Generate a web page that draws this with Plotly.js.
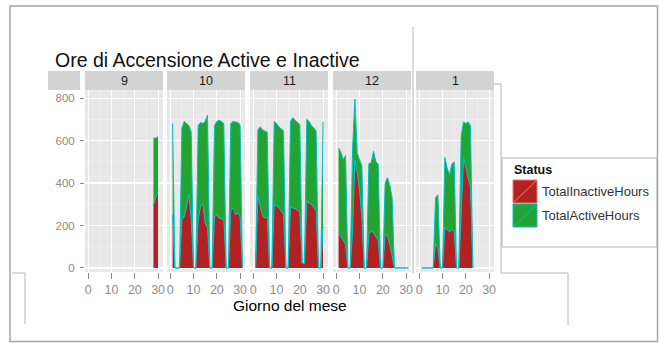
<!DOCTYPE html>
<html><head><meta charset="utf-8">
<script src="https://cdn.plot.ly/plotly-3.0.1.min.js"></script>
<style>html,body{margin:0;padding:0;background:#fff;}#chart{width:659px;height:343px;}</style>
</head><body><div id="chart"></div>
<script>
// ---- data ----
const months = ['9','10','11','12','1'];
const seriesNames = ['TotalInactiveHours','TotalActiveHours'];
const legendTitle = 'Status';
const chartTitle = 'Ore di Accensione Active e Inactive';
const xTitle = 'Giorno del mese';
const yTicks = [0,200,400,600,800];
const xTicks = [0,10,20,30];

const sepDays = [28,29,30];
const sepInactive = [295,330,365];
const sepActive = [317,282,253];

const octDays = [1,2,3,4,5,6,7,8,9,10,11,12,13,14,15,16,17,18,19,20,21,22,23,24,25,26,27,28,29,30,31];
const octInactive = [250,0,0,0,230,240,290,350,230,0,0,230,290,300,210,190,0,0,240,250,235,230,230,0,0,270,285,250,260,240,0];
const octActive = [430,0,0,0,430,450,390,320,410,0,0,440,395,380,480,530,0,0,430,440,460,460,450,0,0,410,405,438,425,435,0];

const novDays = [1,2,3,4,5,6,7,8,9,10,11,12,13,14,15,16,17,18,19,20,21,22,23,24,25,26,27,28,29,30];
const novInactive = [0,340,290,245,235,240,0,0,300,290,285,265,250,0,0,290,282,280,270,262,22,22,315,305,300,285,270,0,0,200];
const novActive = [0,310,375,405,410,400,0,0,390,390,380,390,395,0,0,400,426,415,415,413,0,0,385,385,370,375,375,0,0,490];

const decDays = [1,2,3,4,5,6,7,8,9,10,11,12,13,14,15,16,17,18,19,20,21,22,23,24,25,26,27,28,29,30,31];
const decInactive = [165,150,130,110,0,0,170,510,450,370,230,0,0,160,175,165,150,130,0,0,160,150,110,60,0,0,0,0,0,0,0];
const decActive = [400,395,380,420,0,0,390,285,90,140,250,0,0,332,320,385,350,360,0,0,240,275,280,270,0,0,0,0,0,0,0];

const janDays = [1,2,3,4,5,6,7,8,9,10,11,12,13,14,15,16,17,18,19,20,21,22,23];
const janInactive = [0,0,0,0,0,0,115,95,0,0,190,180,170,180,170,0,0,250,520,470,420,380,0];
const janActive = [0,0,0,0,0,0,215,250,0,0,330,290,270,310,330,0,0,370,168,210,268,290,0];

// ---- layout helpers ----
const W = 659, H = 343;
const px = x => x / W;
const py = y => 1 - y / H;
const FONT = 'Liberation Sans, Arial, sans-serif';
const panelTop = 90, panelBottom = 272, stripTop = 71;
const panelX = [[85,163],[167,245],[250,328],[333,411],[416,494]];
const stubX = [48,80];
const fills = ['#B22222','#23A331'];
const outline = ['#00BFC4','#00BFC4'];
const keyLine = ['#F8766D','#00BFC4'];
const tickGrey = '#8C8C8C';
const artGrey = '#B4B4B4';

const monthData = [
  {days: sepDays, vals: [sepInactive, sepActive]},
  {days: octDays, vals: [octInactive, octActive]},
  {days: novDays, vals: [novInactive, novActive]},
  {days: decDays, vals: [decInactive, decActive]},
  {days: janDays, vals: [janInactive, janActive]}
];

const traces = [];
monthData.forEach((m, i) => {
  const ax = 'x' + (i + 2);
  [0, 1].forEach(s => {
    traces.push({
      type: 'scatter', mode: 'lines', x: m.days, y: m.vals[s],
      xaxis: ax, yaxis: 'y', stackgroup: 'g' + i,
      fillcolor: fills[s], line: {color: outline[s], width: 1},
      name: seriesNames[s], showlegend: false, hoverinfo: 'skip'
    });
  });
});

const layout = {
  width: W, height: H,
  margin: {l: 0, r: 0, t: 0, b: 0},
  paper_bgcolor: '#FFFFFF', plot_bgcolor: '#E8E8E8',
  font: {family: FONT},
  showlegend: false,
  title: {text: chartTitle, x: px(55), xanchor: 'left', xref: 'paper',
          y: py(60), yanchor: 'middle', yref: 'paper',
          font: {size: 19.5, color: '#111111', family: FONT}},
  xaxis: {domain: [px(stubX[0]), px(stubX[1])], anchor: 'y', range: [18.8, 32.6],
          tickvals: [20, 30], showticklabels: false, ticks: '',
          showgrid: true, gridcolor: '#FFFFFF', gridwidth: 1.1, zeroline: false, showline: false,
          minor: {tickvals: [25], showgrid: true, gridcolor: '#F4F4F4', gridwidth: 0.6},
          fixedrange: true},
  yaxis: {domain: [py(panelBottom), py(panelTop)], anchor: 'x', range: [-19, 838],
          tickvals: yTicks, ticks: 'outside', ticklen: 4, tickwidth: 1, tickcolor: tickGrey,
          tickfont: {size: 11.5, color: tickGrey, family: FONT}, ticklabelstandoff: 3,
          showgrid: true, gridcolor: '#FFFFFF', gridwidth: 1.1, zeroline: false, showline: false,
          minor: {tickvals: [100, 300, 500, 700], showgrid: true, gridcolor: '#F4F4F4', gridwidth: 0.6},
          fixedrange: true},
  shapes: [], annotations: []
};

panelX.forEach((p, i) => {
  layout['xaxis' + (i + 2)] = {
    domain: [px(p[0]), px(p[1])], anchor: 'y', range: [-1.4, 32.1],
    tickvals: xTicks, ticks: 'outside', ticklen: 6, tickwidth: 1, tickcolor: tickGrey,
    tickfont: {size: 12.5, color: tickGrey, family: FONT},
    showgrid: true, gridcolor: '#FFFFFF', gridwidth: 1.1, zeroline: false, showline: false,
    minor: {tickvals: [5, 15, 25], showgrid: true, gridcolor: '#F4F4F4', gridwidth: 0.6},
    fixedrange: true
  };
});

// strips
[stubX].concat(panelX).forEach((p, i) => {
  layout.shapes.push({type: 'rect', xref: 'paper', yref: 'paper',
    x0: px(p[0]), x1: px(p[1]), y0: py(panelTop), y1: py(stripTop),
    fillcolor: '#D3D3D3', line: {width: 0}});
  if (i > 0) {
    layout.annotations.push({xref: 'paper', yref: 'paper', x: px((p[0] + p[1]) / 2), y: py((panelTop + stripTop) / 2),
      text: months[i - 1], showarrow: false, xanchor: 'center', yanchor: 'middle',
      font: {size: 12.5, color: '#1A1A1A', family: FONT}});
  }
});

// x title
layout.annotations.push({xref: 'paper', yref: 'paper', x: px(290), y: py(305), text: xTitle,
  showarrow: false, xanchor: 'center', yanchor: 'middle', font: {size: 15.5, color: '#000000', family: FONT}});

// legend (drawn)
const lg = {x0: 502, y0: 158, x1: 657, y1: 247, keyX: 513, keyW: 24, keyY: [180, 204], keyH: 23};
layout.shapes.push({type: 'rect', xref: 'paper', yref: 'paper', x0: px(lg.x0), x1: px(lg.x1), y0: py(lg.y1), y1: py(lg.y0),
  line: {color: artGrey, width: 1}, fillcolor: 'rgba(255,255,255,0)'});
layout.annotations.push({xref: 'paper', yref: 'paper', x: px(lg.keyX - 1), y: py(170), text: '<b>' + legendTitle + '</b>',
  showarrow: false, xanchor: 'left', yanchor: 'middle', font: {size: 12.5, color: '#111111', family: FONT}});
seriesNames.forEach((nm, s) => {
  const y0 = lg.keyY[s], y1 = y0 + lg.keyH;
  layout.shapes.push({type: 'rect', xref: 'paper', yref: 'paper', x0: px(lg.keyX), x1: px(lg.keyX + lg.keyW),
    y0: py(y1), y1: py(y0), fillcolor: fills[s], line: {color: keyLine[s], width: 1}});
  layout.shapes.push({type: 'line', xref: 'paper', yref: 'paper', x0: px(lg.keyX), x1: px(lg.keyX + lg.keyW),
    y0: py(y1), y1: py(y0), line: {color: keyLine[s], width: 1}});
  layout.annotations.push({xref: 'paper', yref: 'paper', x: px(lg.keyX + lg.keyW + 3), y: py(y0 + lg.keyH / 2),
    text: nm, showarrow: false, xanchor: 'left', yanchor: 'middle', font: {size: 13, color: '#333333', family: FONT}});
});

// frame / overlapping window edges seen in the picture
const pathPx = pts => 'M ' + pts.map(p => px(p[0]) + ' ' + py(p[1])).join(' L ');
layout.shapes.push({type: 'rect', xref: 'paper', yref: 'paper', x0: px(10), x1: px(657.5), y0: py(341.5), y1: py(6),
  line: {color: '#A6A6A6', width: 1.5}, fillcolor: 'rgba(0,0,0,0)'});
layout.shapes.push({type: 'path', xref: 'paper', yref: 'paper', path: pathPx([[12,273],[25,273],[25,324]]), line: {color: artGrey, width: 1}});
layout.shapes.push({type: 'path', xref: 'paper', yref: 'paper', path: pathPx([[494,84],[501,84],[501,273],[568,273],[568,325]]), line: {color: artGrey, width: 1}});
layout.shapes.push({type: 'line', xref: 'paper', yref: 'paper', x0: px(413), x1: px(413), y0: py(273), y1: py(27), line: {color: artGrey, width: 1}});

Plotly.newPlot('chart', traces, layout, {staticPlot: true, displayModeBar: false});
</script>
</body></html>
